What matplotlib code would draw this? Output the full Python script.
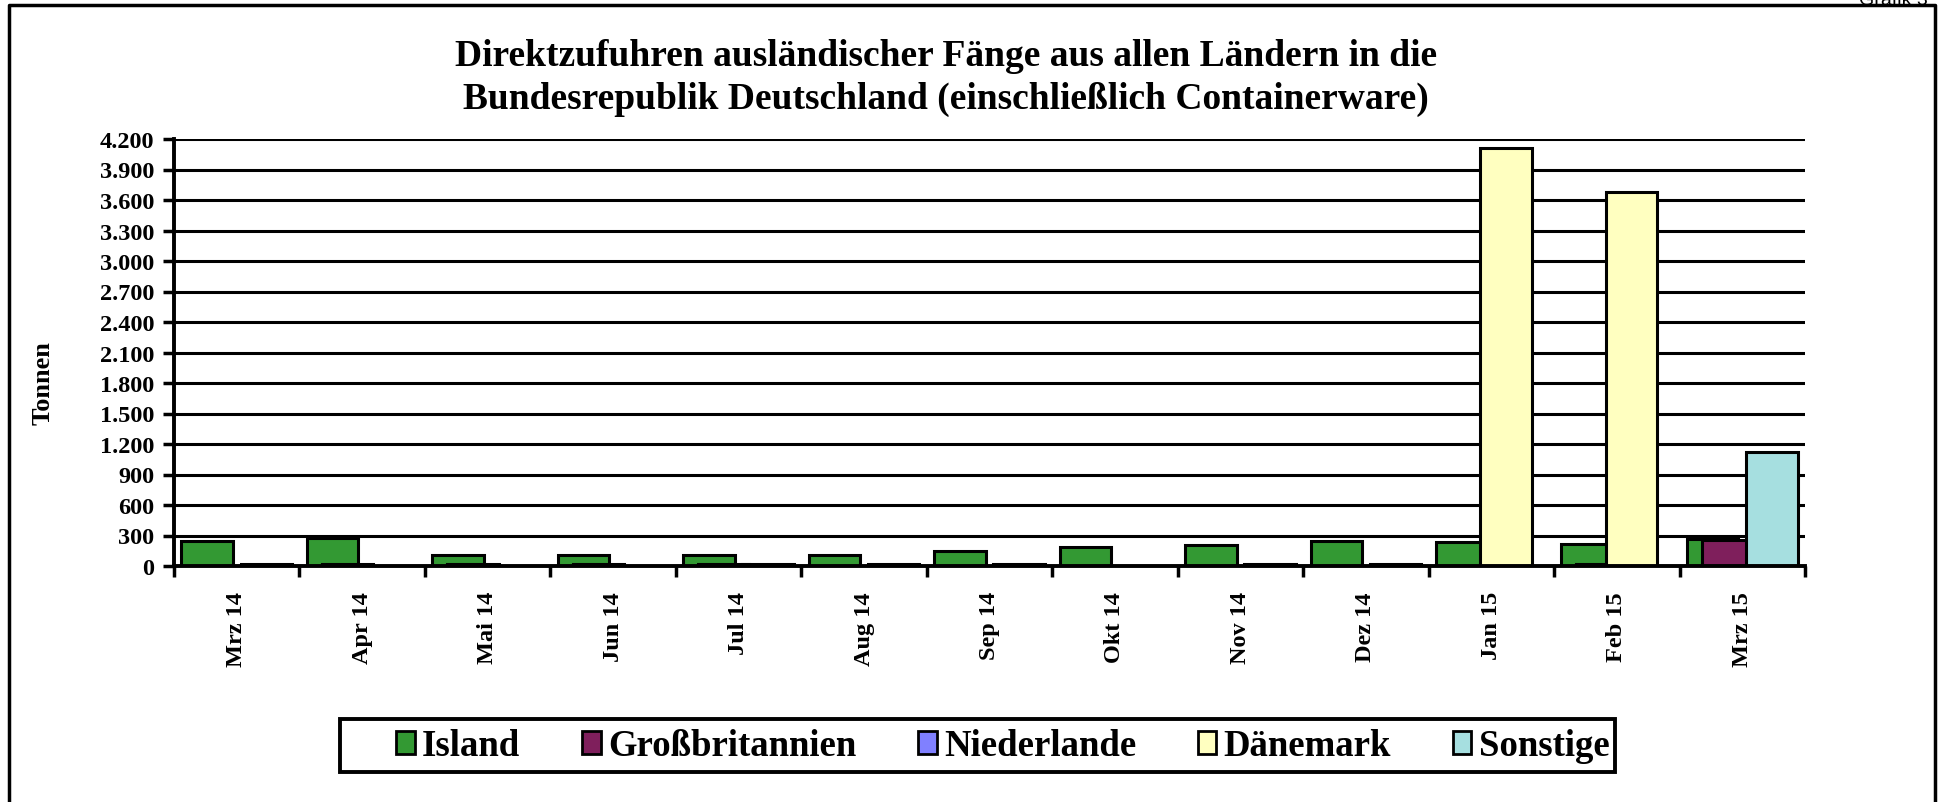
import matplotlib.pyplot as plt
import numpy as np
from matplotlib.lines import Line2D
from matplotlib.patches import Patch, Rectangle

# Monate und Werte (Tonnen)
monate = ['Mrz 14', 'Apr 14', 'Mai 14', 'Jun 14', 'Jul 14', 'Aug 14', 'Sep 14',
          'Okt 14', 'Nov 14', 'Dez 14', 'Jan 15', 'Feb 15', 'Mrz 15']
laender = ['Island', 'Großbritannien', 'Niederlande', 'Dänemark', 'Sonstige']

island = [242, 275, 106, 106, 105, 105, 145, 184, 203, 245, 237, 220, 262]
grossbritannien = [0, 20, 20, 20, 20, 0, 0, 0, 0, 0, 0, 20, 252]
niederlande = [0, 0, 0, 0, 0, 0, 0, 0, 0, 0, 0, 0, 0]
daenemark = [0, 0, 0, 0, 0, 0, 0, 0, 0, 0, 4110, 3675, 0]
sonstige = [20, 0, 0, 0, 20, 20, 20, 0, 20, 20, 0, 0, 1120]

farben = ['#339933', '#7f1f5c', '#8080ff', '#ffffc0', '#a6dfe0']
yticks = np.arange(0, 4201, 300)

serif = ['Liberation Serif', 'DejaVu Serif']

fig = plt.figure(figsize=(19.38, 8.03), dpi=100)
ax = fig.add_axes([174 / 1938, 1 - 567 / 803, (1805 - 174) / 1938, (567 - 140) / 803])

serien = [island, grossbritannien, niederlande, daenemark, sonstige]
x = np.arange(len(monate))
breite = 0.41
schritt = 0.118
for i, werte in enumerate(serien):
    werte = np.array(werte, dtype=float)
    pos = x + (i - 2) * schritt
    m = werte > 0
    ax.bar(pos[m], werte[m], width=breite, color=farben[i], edgecolor='black',
           linewidth=2.2, zorder=3 + i)

ax.set_xlim(-0.5, len(monate) - 0.5)
ax.set_ylim(0, 4200)
ax.set_yticks(yticks)
ax.set_yticklabels([f'{v:,}'.replace(',', '.') for v in yticks],
                   fontfamily=serif, fontweight='bold', fontsize=17.5)
ax.yaxis.grid(True, color='black', linewidth=2.2, zorder=1)
ax.set_axisbelow(True)

# Kategoriegrenzen als Ticks, Beschriftung in der Mitte
ax.set_xticks(np.arange(-0.5, len(monate), 1.0))
ax.set_xticklabels([])
ax.set_xticks(x, minor=True)
ax.set_xticklabels(monate, minor=True, rotation=90, fontfamily=serif,
                   fontweight='bold', fontsize=17.5)
ax.tick_params(axis='x', which='minor', length=0, pad=18)
ax.tick_params(axis='x', which='major', length=8, width=2.5)
ax.tick_params(axis='y', length=8, width=2.5, pad=6)

for s in ['top', 'right']:
    ax.spines[s].set_visible(False)
for s in ['left', 'bottom']:
    ax.spines[s].set_linewidth(2.8)
    ax.spines[s].set_zorder(10)

fig.text(946 / 1938, 1 - 78 / 803,
         'Direktzufuhren ausländischer Fänge aus allen Ländern in die\n'
         'Bundesrepublik Deutschland (einschließlich Containerware)',
         ha='center', va='center', fontfamily=serif, fontweight='bold',
         fontsize=27, linespacing=1.28)
fig.text(43 / 1938, 1 - 383 / 803, 'Tonnen', rotation=90, ha='center',
         va='center', fontfamily=serif, fontweight='bold', fontsize=19)
fig.text(1928 / 1938, 1 - 5 / 803, 'Grafik 3', ha='right', va='baseline',
         fontsize=14, fontfamily='Liberation Sans')

# Legende ohne eigenen Rahmen, Rahmen separat gezeichnet
handles = [Patch(facecolor=c, edgecolor='black', linewidth=2) for c in farben]
leg = fig.legend(handles, laender, loc='center', ncol=5,
                 bbox_to_anchor=(1003 / 1938, 1 - 747 / 803),
                 prop={'family': serif, 'weight': 'bold', 'size': 26.5},
                 frameon=False, handlelength=0.5, handleheight=0.6,
                 handletextpad=0.2, columnspacing=1.68, borderpad=0.1)
fig.add_artist(Rectangle((340 / 1938, 1 - 773 / 803), (1615 - 340) / 1938,
                         (773 - 720) / 803, transform=fig.transFigure,
                         fill=False, edgecolor='black', linewidth=2.8))

# Rahmen um die Grafik (unten abgeschnitten)
rahmen = Line2D([9 / 1938, 9 / 1938, 1935 / 1938, 1935 / 1938],
                [0, 1 - 6 / 803, 1 - 6 / 803, 0],
                transform=fig.transFigure, color='black', linewidth=2.5)
fig.add_artist(rahmen)

fig.savefig('out.png', dpi=100)
